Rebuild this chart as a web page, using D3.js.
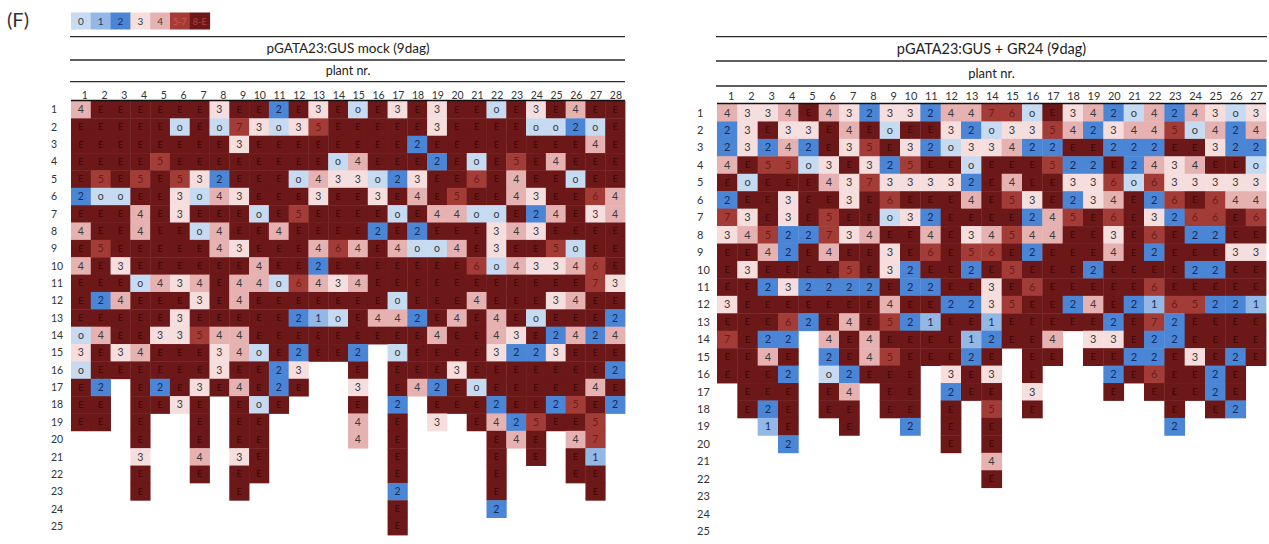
<!DOCTYPE html>
<html lang="en">
<head>
<meta charset="UTF-8">
<title>pGATA23:GUS plant nr.</title>
<script src="https://d3js.org/d3.v7.min.js"></script>
<style>
    body { margin: 0; background: #fff; }
    svg { font-family: Lato, "Liberation Sans", sans-serif; }
    .hline { stroke: #2a2a2a; stroke-width: 1.3; }
    .topline { stroke: #111; stroke-width: 1.6; }
</style>
</head>
<body>
<svg id="chart" width="1269" height="544"></svg>
<script>
// legend categories
const legendLabels = ["0", "1", "2", "3", "4", "5-7", "8-E"];
const legendColors = ["#c6daf1", "#93b8e6", "#4a86d5", "#f6dede", "#e6b1b1", "#a33c37", "#6c1818"];
const cellTextColors = ["#3a3a3a", "#1d2c55", "#14295a", "#3a3a3a", "#3a3a3a", "#6e1c18", "#3c0707"];
const legendTextColors = ["#3a3a3a", "#2a3a66", "#1a2d5e", "#3a3a3a", "#3a3a3a", "#d3554f", "#b23f3a"];

// columns / rows
const mockCols = d3.range(1, 29);
const gr24Cols = d3.range(1, 28);
const rowNums = d3.range(1, 26);

// pGATA23:GUS mock (9dag), one string per row, "." = no cell, "o" = 0
const mockRows = [
    "4 E E E E E E 3 E E 2 E 3 E o E 3 E 3 E E o E 3 E 4 E E",
    "E E E E E o E o 7 3 o 3 5 E E E E E 3 E E E E o o 2 o E",
    "E E E E E E E E 3 E E E E E E E E 2 E E E E E E E E 4 E",
    "E E E E 5 E E E E E E E E o 4 E E E 2 E o E 5 E 4 E E E",
    "E 5 E 5 E 5 3 2 E E E o 4 3 3 o 2 3 E E 6 E 4 E E o E E",
    "2 o o E E 3 o 4 3 E E E 3 E E 3 E 4 E 5 E E 4 3 E E 6 4",
    "E E E 4 E 3 E E E o E 5 E E E E o E 4 4 o o E 2 4 E 3 4",
    "4 E E 4 E E o 4 E E 4 E E E E 2 E 2 E E E 3 4 3 E E E E",
    "E 5 E E E E E 4 3 E E E 4 6 4 E 4 o o 4 E 3 E E 5 o E E",
    "4 E 3 E E E E E E 4 E E 2 E E E E E E E 6 o 4 3 3 4 6 E",
    "E E E o 4 3 4 E 4 4 o 6 4 3 4 E E E E E E E E E E E 7 3",
    "E 2 4 E E E 3 E 4 E E E E E E E o E E E 4 E E E 3 4 E E",
    "E E E E E 3 E E E E E 2 1 o E 4 4 2 E 4 E 4 E o E E E 2",
    "o 4 E E 3 3 5 4 4 E E E E E E E E E 4 E E 4 3 E 2 4 2 4",
    "3 E 3 4 E E E 3 4 o E 2 E E 2 . o E E E E 3 2 2 3 E E E",
    "o E E E E E E 3 E E 2 3 . . E . E E E 3 E E E E E E E 2",
    "E 2 . E 2 E 3 E 4 E 2 E . . 3 . E 4 2 E o E E E E E 4 E",
    "E E . E E 3 E . E o E . . . E . 2 . E E E 2 E E 2 5 E 2",
    "E E . E . . E . E E . . . . 4 . E . 3 . E 4 2 5 E E 5 .",
    ". . . E . . E . E E . . . . 4 . E . . . . E 4 E . 4 7 .",
    ". . . 3 . . 4 . 3 E . . . . . . E . . . . E . E . E 1 .",
    ". . . E . . E . E E . . . . . . E . . . . E . . . E E .",
    ". . . E . . . . E . . . . . . . 2 . . . . E . . . . E .",
    ". . . . . . . . . . . . . . . . E . . . . 2 . . . . . .",
    ". . . . . . . . . . . . . . . . E . . . . . . . . . . ."
];

// pGATA23:GUS + GR24 (9dag)
const gr24Rows = [
    "4 3 3 4 E 4 3 2 3 3 2 4 4 7 6 o E 3 4 2 o 4 2 4 3 o 3",
    "2 3 E 3 3 E 4 E o E E 3 2 o 3 3 5 4 2 3 4 4 5 o 4 2 4",
    "2 3 2 4 2 E 3 5 E 3 2 o 3 3 4 2 2 E E 2 2 2 E E 3 2 2",
    "4 E 5 5 o 3 E 3 2 5 E E o E E E 5 2 2 E 2 4 3 4 E E o",
    "E o E E E 4 3 7 3 3 3 3 2 E 4 E E 3 3 6 o 6 3 3 3 3 3",
    "2 E E 3 E E 3 E 6 E E E 4 E 5 3 E 2 3 4 E 2 6 E 6 4 4",
    "7 3 E 3 E 5 E E o 3 2 E E E E 2 4 5 E 6 E 3 2 6 6 E 6",
    "3 4 5 2 2 7 3 4 E E 4 E 3 4 5 4 4 E E 3 E 6 E 2 2 E E",
    "E E 4 2 E 4 E E 3 E 6 E 5 6 E 2 E E E 4 E 2 E E E 3 3",
    "E 3 E E E E 5 E 3 2 E E 2 E 5 E E E 2 E E E E 2 2 E E",
    "E E 2 3 2 2 2 2 E 2 2 E E 3 E 6 E E E E E 6 E E E E E",
    "3 E E E E E E E 4 E E 2 2 3 5 E E 2 4 E 2 1 6 5 2 2 1",
    "E E E 6 2 E 4 E 5 2 1 E E 1 E E E E E 2 E 7 2 E E E E",
    "7 E 2 2 . 4 E 4 E E E E 1 2 E E 4 . 3 3 E 2 2 E E E E",
    "E E 4 E . 2 E 4 5 E E E 2 E . E E . E E 2 2 E 3 E 2 E",
    "E E E 2 . o 2 E E E . 3 E 3 . E . . . 2 E 6 E E 2 E .",
    ". E E E . E 4 . E E . 2 E E . 3 . . . E . E E E 2 E .",
    ". E 2 E . E E . E E . E . 5 . E . . . . . . E . E 2 .",
    ". . 1 E . . E . . 2 . E . E . . . . . . . . 2 . . . .",
    ". . . 2 . . . . . . . E . E . . . . . . . . . . . . .",
    ". . . . . . . . . . . . . 4 . . . . . . . . . . . . .",
    ". . . . . . . . . . . . . E . . . . . . . . . . . . .",
    ". . . . . . . . . . . . . . . . . . . . . . . . . . .",
    ". . . . . . . . . . . . . . . . . . . . . . . . . . .",
    ". . . . . . . . . . . . . . . . . . . . . . . . . . ."
];

// value -> legend category index
function category(v) {
    if (v === "o") return 0;
    if (v === "E") return 6;
    const n = +v;
    if (n >= 5 && n <= 7) return 5;
    if (n >= 8) return 6;
    return n;
}

function toCells(rows, cols) {
    const cells = [];
    rows.forEach((line, i) => {
        line.split(" ").forEach((v, j) => {
            if (v !== ".") cells.push({ row: rowNums[i], col: cols[j], value: v, cat: category(v) });
        });
    });
    return cells;
}

const svg = d3.select("#chart");

// panel letter
svg.append("text")
    .attr("x", 7).attr("y", 27)
    .attr("font-size", 20).attr("fill", "#333")
    .text("(F)");

// legend, uses the column width of the left panel
const legendX = d3.scaleBand().domain(legendLabels).range([71, 71 + 7 * 19.8]);
const legend = svg.append("g");
legend.selectAll("rect")
    .data(legendLabels)
    .enter().append("rect")
    .attr("x", d => legendX(d))
    .attr("y", 12.5)
    .attr("width", legendX.bandwidth() + 0.5)
    .attr("height", 17)
    .attr("fill", (d, i) => legendColors[i]);
legend.selectAll("text")
    .data(legendLabels)
    .enter().append("text")
    .attr("x", d => legendX(d) + legendX.bandwidth() / 2)
    .attr("y", 21.5)
    .attr("dy", "0.35em")
    .attr("text-anchor", "middle")
    .attr("font-size", d => d.length > 1 ? 9 : 10)
    .attr("fill", (d, i) => legendTextColors[i])
    .text(d => d);

function drawPanel(cfg) {
    const g = svg.append("g");
    const x = d3.scaleBand().domain(cfg.cols).range(cfg.xRange);
    const y = d3.scaleBand().domain(rowNums).range(cfg.yRange);
    const cells = toCells(cfg.rows, cfg.cols);
    const mid = (cfg.xRange[0] + cfg.xRange[1]) / 2;

    // header rules
    g.selectAll("line.hline")
        .data(cfg.lines)
        .enter().append("line")
        .attr("class", "hline")
        .attr("x1", cfg.lineX[0]).attr("x2", cfg.lineX[1])
        .attr("y1", d => d).attr("y2", d => d);

    g.append("text")
        .attr("x", mid).attr("y", cfg.titleY)
        .attr("dy", "0.35em")
        .attr("text-anchor", "middle")
        .attr("font-size", cfg.titleSize).attr("fill", "#222")
        .text(cfg.title);

    g.append("text")
        .attr("x", mid).attr("y", cfg.plantY)
        .attr("dy", "0.35em")
        .attr("text-anchor", "middle")
        .attr("font-size", cfg.plantSize).attr("fill", "#222")
        .text("plant nr.");

    // column numbers, right aligned like a spreadsheet
    g.selectAll("text.col")
        .data(cfg.cols)
        .enter().append("text")
        .attr("class", "col")
        .attr("x", d => x(d) + x.bandwidth() - 3)
        .attr("y", cfg.colLabelY)
        .attr("dy", "0.35em")
        .attr("text-anchor", "end")
        .attr("font-size", cfg.labelSize).attr("fill", "#333")
        .text(d => d);

    // row numbers
    g.selectAll("text.row")
        .data(rowNums)
        .enter().append("text")
        .attr("class", "row")
        .attr("x", cfg.rowLabelX)
        .attr("y", d => y(d) + y.bandwidth() / 2)
        .attr("dy", "0.35em")
        .attr("font-size", cfg.labelSize).attr("fill", "#333")
        .text(d => d);

    // cells
    g.selectAll("rect.cell")
        .data(cells)
        .enter().append("rect")
        .attr("class", "cell")
        .attr("x", d => x(d.col))
        .attr("y", d => y(d.row))
        .attr("width", x.bandwidth() + 0.4)
        .attr("height", y.bandwidth() + 0.4)
        .attr("fill", d => legendColors[d.cat]);

    g.selectAll("text.val")
        .data(cells)
        .enter().append("text")
        .attr("class", "val")
        .attr("x", d => x(d.col) + x.bandwidth() / 2)
        .attr("y", d => y(d.row) + y.bandwidth() / 2)
        .attr("dy", "0.35em")
        .attr("text-anchor", "middle")
        .attr("font-size", d => d.value === "E" ? cfg.cellSize - 1.5 : cfg.cellSize)
        .attr("fill", d => cellTextColors[d.cat])
        .text(d => d.value);

    // line on top of the grid
    g.append("line")
        .attr("class", "topline")
        .attr("x1", cfg.xRange[0]).attr("x2", cfg.xRange[1])
        .attr("y1", cfg.yRange[0] - 0.5).attr("y2", cfg.yRange[0] - 0.5);
}

drawPanel({
    rows: mockRows, cols: mockCols,
    xRange: [71, 625], yRange: [101, 535],
    lineX: [70, 625], lines: [36.7, 60, 81.7],
    title: "pGATA23:GUS mock (9dag)", titleY: 48, titleSize: 13.5,
    plantY: 71, plantSize: 12.5,
    colLabelY: 95.5, rowLabelX: 51,
    labelSize: 10.5, cellSize: 10.5
});

drawPanel({
    rows: gr24Rows, cols: gr24Cols,
    xRange: [717, 1266], yRange: [104, 540],
    lineX: [716, 1267], lines: [36.7, 61, 86],
    title: "pGATA23:GUS + GR24 (9dag)", titleY: 49, titleSize: 14.5,
    plantY: 73.5, plantSize: 13,
    colLabelY: 96, rowLabelX: 697,
    labelSize: 11, cellSize: 11
});
</script>
</body>
</html>
